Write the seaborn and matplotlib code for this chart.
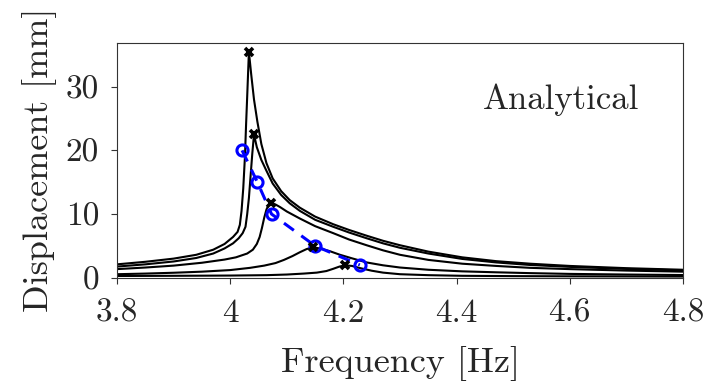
import numpy as np
import pandas as pd
import matplotlib
matplotlib.use("Agg")
import matplotlib.pyplot as plt
import seaborn as sns

# ---- data ----
freq_A = [3.80, 3.85, 3.90, 3.94, 3.97, 3.99, 4.005, 4.013, 4.017, 4.020, 4.023, 4.026, 4.028, 4.030, 4.0315, 4.033,
          4.037, 4.042, 4.048, 4.055, 4.064, 4.075, 4.090, 4.105, 4.123, 4.150, 4.182, 4.210, 4.241, 4.270, 4.300,
          4.350, 4.410, 4.470, 4.530, 4.600, 4.700, 4.800]
disp_A = [2.1, 2.5, 3.0, 3.6, 4.4, 5.3, 6.4, 7.2, 8.3, 10.5, 14.0, 19.0, 24.0, 28.5, 32.0, 35.5,
          32.0, 28.0, 24.5, 21.0, 18.0, 15.6, 13.6, 12.2, 11.0, 9.6, 8.4, 7.5, 6.6, 5.8, 5.1,
          4.1, 3.2, 2.6, 2.2, 1.85, 1.5, 1.25]

freq_B = [3.80, 3.85, 3.90, 3.94, 3.97, 3.99, 4.005, 4.015, 4.022, 4.027, 4.030, 4.033, 4.036, 4.039, 4.042,
          4.047, 4.055, 4.064, 4.075, 4.090, 4.105, 4.123, 4.150, 4.182, 4.210, 4.241, 4.270, 4.300,
          4.350, 4.410, 4.470, 4.530, 4.600, 4.700, 4.800]
disp_B = [1.75, 2.1, 2.55, 3.1, 3.8, 4.6, 5.4, 6.2, 7.0, 8.0, 10.0, 12.5, 16.0, 19.5, 22.5,
          20.5, 18.5, 16.8, 14.8, 13.0, 11.7, 10.5, 9.1, 8.0, 7.1, 6.2, 5.4, 4.7,
          3.8, 2.95, 2.4, 2.0, 1.7, 1.38, 1.15]

freq_C = [3.80, 3.85, 3.90, 3.95, 3.99, 4.01, 4.03, 4.04, 4.047, 4.052, 4.056, 4.060, 4.064, 4.068, 4.072,
          4.080, 4.088, 4.100, 4.123, 4.150, 4.182, 4.210, 4.241, 4.270, 4.300, 4.350, 4.410, 4.470,
          4.530, 4.600, 4.700, 4.800]
disp_C = [1.35, 1.6, 1.9, 2.35, 2.85, 3.2, 3.8, 4.4, 5.3, 6.4, 7.8, 9.4, 10.7, 11.5, 11.8,
          11.5, 11.1, 10.4, 9.3, 8.1, 7.0, 6.0, 5.1, 4.3, 3.6, 2.8, 2.2, 1.85,
          1.55, 1.35, 1.12, 0.95]

freq_D = [3.80, 3.85, 3.90, 3.95, 4.00, 4.035, 4.060, 4.080, 4.095, 4.110, 4.123, 4.135, 4.147,
          4.160, 4.175, 4.194, 4.215, 4.241, 4.270, 4.300, 4.350, 4.410, 4.470, 4.530, 4.600, 4.700, 4.800]
disp_D = [0.55, 0.65, 0.78, 0.95, 1.2, 1.55, 1.9, 2.3, 2.8, 3.4, 4.0, 4.5, 4.8,
          4.55, 4.2, 3.6, 3.05, 2.4, 1.95, 1.6, 1.25, 1.0, 0.85, 0.72, 0.6, 0.5, 0.42]

freq_E = [3.80, 3.90, 4.00, 4.064, 4.100, 4.130, 4.153, 4.170, 4.182, 4.193, 4.203,
          4.215, 4.230, 4.250, 4.270, 4.300, 4.350, 4.410, 4.500, 4.600, 4.800]
disp_E = [0.27, 0.30, 0.34, 0.40, 0.50, 0.65, 0.80, 1.05, 1.40, 1.75, 1.95,
          1.85, 1.50, 1.10, 0.80, 0.55, 0.40, 0.30, 0.25, 0.22, 0.18]

peak_freq = [4.033, 4.042, 4.072, 4.147, 4.203]
peak_disp = [35.5, 22.5, 11.8, 4.8, 1.95]

backbone_freq = [4.021, 4.048, 4.073, 4.150, 4.229]
backbone_disp = [20.0, 15.0, 10.0, 5.0, 2.0]

x_ticks = [3.8, 4.0, 4.2, 4.4, 4.6, 4.8]
x_tick_labels = ["3.8", "4", "4.2", "4.4", "4.6", "4.8"]
y_ticks = [0, 10, 20, 30]
y_tick_labels = ["0", "10", "20", "30"]

# ---- build long-form table ----
curves = {"A": (freq_A, disp_A), "B": (freq_B, disp_B), "C": (freq_C, disp_C),
          "D": (freq_D, disp_D), "E": (freq_E, disp_E)}
frames = []
for name, (f, d) in curves.items():
    frames.append(pd.DataFrame({"freq": f, "disp": d, "curve": name}))
df = pd.concat(frames, ignore_index=True)

sns.set_style("white")
plt.rcParams["font.family"] = ["cmr10"]
plt.rcParams["mathtext.fontset"] = "cm"
plt.rcParams["axes.unicode_minus"] = False
plt.rcParams["axes.formatter.use_mathtext"] = True

text_color = "#262626"

fig = plt.figure(figsize=(7.11, 3.82), dpi=100)
ax = fig.add_axes([0.1646, 0.273, 0.7960, 0.6150])

sns.lineplot(data=df, x="freq", y="disp", units="curve", estimator=None, sort=False,
             color="black", linewidth=1.5, ax=ax, legend=False)

sns.lineplot(x=backbone_freq, y=backbone_disp, sort=False, estimator=None, ax=ax,
             color=(0, 0, 1), linewidth=2.2, linestyle=(0, (4, 3)),
             marker="o", markersize=8, markerfacecolor="none",
             markeredgecolor=(0, 0, 1), markeredgewidth=2.2, legend=False, zorder=3)

ax.plot(peak_freq, peak_disp, linestyle="none", marker="x", markersize=6,
        markeredgewidth=2.6, color="black", zorder=4)

ax.set_xlim(3.8, 4.8)
ax.set_ylim(0, 36.9)
ax.set_xticks(x_ticks)
ax.set_xticklabels(x_tick_labels)
ax.set_yticks(y_ticks)
ax.set_yticklabels(y_tick_labels)

ax.tick_params(axis="both", direction="out", length=4, width=0.8, color="#333333",
               labelsize=24, labelcolor=text_color, pad=9,
               bottom=True, left=True, top=False, right=False)
ax.tick_params(axis="x", pad=11)

for sp in ax.spines.values():
    sp.set_visible(True)
    sp.set_color("#333333")
    sp.set_linewidth(0.8)

ax.set_xlabel("Frequency [Hz]", fontsize=26, color=text_color, labelpad=13)
ax.set_ylabel("Displacement [mm]", fontsize=26, color=text_color, labelpad=6)

ax.text(4.585, 27.9, "Analytical", ha="center", va="center", fontsize=25, color=text_color)

fig.savefig("out.png", dpi=100)
